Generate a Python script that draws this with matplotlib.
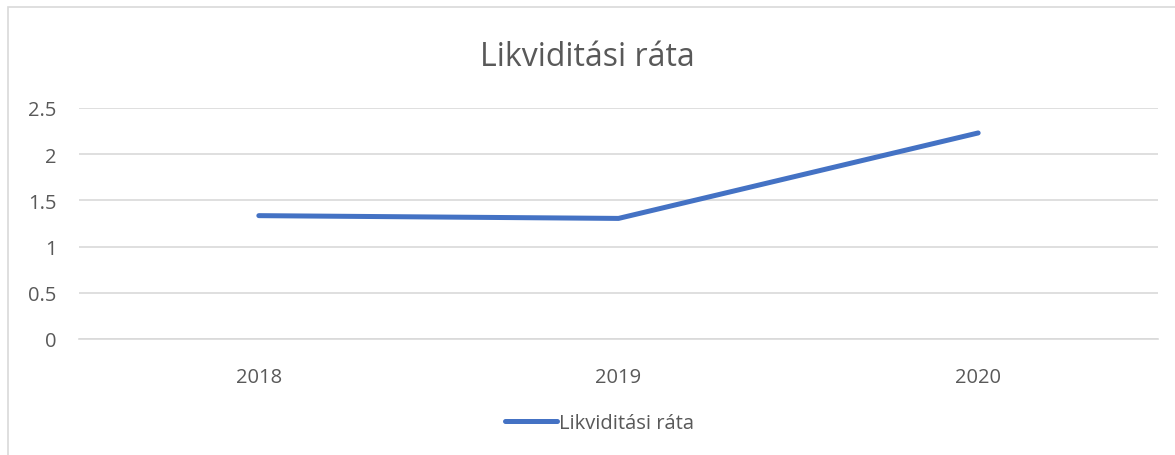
import matplotlib.pyplot as plt
from matplotlib.patches import Rectangle

years = ["2018", "2019", "2020"]
ratio = [1.335, 1.305, 2.23]
series_name = "Likviditási ráta"
yticks = [0, 0.5, 1, 1.5, 2, 2.5]

plt.rcParams['font.family'] = ['Open Sans', 'DejaVu Sans']

fig = plt.figure(figsize=(11.75, 4.56), dpi=100)
W, H = 1175, 456
ax = fig.add_axes([79 / W, 1 - 340 / H, (1158 - 79) / W, (340 - 109) / H])

# chart border
fig.patches.append(Rectangle((8 / W, -0.05), 1.2, 1 - 8 / H + 0.05, transform=fig.transFigure,
                             fill=False, edgecolor="#d9d9d9", linewidth=1.2))

x = range(len(years))
ax.plot(x, ratio, color="#4472C4", linewidth=3.6, solid_capstyle="round", label=series_name)

ax.set_xlim(-0.5, 2.5)
ax.set_ylim(0, 2.5)
ax.set_yticks(yticks)
ax.set_yticklabels(["0", "0.5", "1", "1.5", "2", "2.5"])
ax.set_xticks(list(x))
ax.set_xticklabels(years)
ax.grid(axis="y", color="#d9d9d9", linewidth=1.2)
ax.set_axisbelow(True)
for s in ["top", "right", "left"]:
    ax.spines[s].set_visible(False)
ax.spines["bottom"].set_color("#d9d9d9")
ax.spines["bottom"].set_linewidth(1.2)
ax.tick_params(length=0, labelsize=14.5, colors="#595959")
ax.tick_params(axis="y", pad=16)
ax.tick_params(axis="x", pad=20)

fig.text(0.5, 1 - 58 / H, "Likviditási ráta", ha="center", va="center", fontsize=23, color="#595959")

fig.legend(loc="center", bbox_to_anchor=(0.51, 1 - 424 / H), frameon=False, fontsize=14.5,
           labelcolor="#595959", handlelength=2.6, handletextpad=0.1)

fig.savefig("out.png", dpi=100)
